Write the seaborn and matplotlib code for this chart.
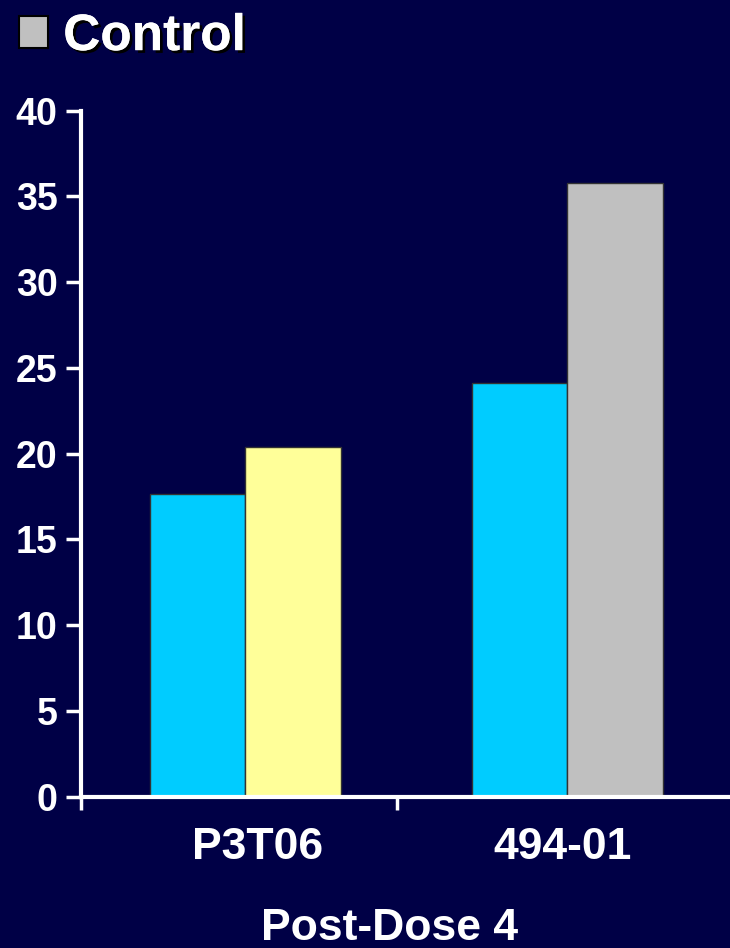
import seaborn as sns
import numpy as np
import matplotlib.pyplot as plt
import matplotlib.patheffects as pe
import matplotlib.transforms as mtransforms
from matplotlib.patches import Patch
import pandas as pd

# values
studies = ["P3T06", "P3T06", "494-01", "494-01"]
arms = ["Vaccine", "Control", "Vaccine", "Control"]
values = [17.65, 20.4, 24.1, 35.8]
yticks = [0, 5, 10, 15, 20, 25, 30, 35, 40]

df = pd.DataFrame({"study": studies, "arm": arms, "value": values})

bg = "#000046"
sns.set_style("white", {"axes.facecolor": bg, "figure.facecolor": bg})
plt.rcParams["font.family"] = ["Liberation Sans", "DejaVu Sans"]
plt.rcParams["font.weight"] = "bold"

fig = plt.figure(figsize=(7.3, 9.48), dpi=100)
ax = fig.add_axes([0.111, 0.1598, 0.889, 0.7236])

sns.barplot(data=df, x="study", y="value", hue="arm",
            palette={"Vaccine": "#00CCFF", "Control": "#C0C0C0"},
            width=0.593, saturation=1, edgecolor="#333333", linewidth=1,
            legend=False, ax=ax)
# P3T06 comparator bar is yellow in the original
ax.containers[1][0].set_facecolor("#FFFF99")

ax.set_ylim(0, 40)
ax.set_xlim(-0.51, 1.505)
ax.set_yticks(yticks)
ax.set_yticklabels([str(t) for t in yticks], fontsize=27, fontweight="bold", color="white")
ax.set_xticks([0, 1])
ax.set_xticklabels(["P3T06", "494-01"], fontsize=32, fontweight="bold", color="white")
ax.tick_params(axis="x", which="major", length=0, pad=22)
# nudge category labels like the original
for lab, dx in zip(ax.get_xticklabels(), [0.12, -0.05]):
    lab.set_transform(lab.get_transform() + mtransforms.ScaledTranslation(dx, 0, fig.dpi_scale_trans))
ax.set_xticks([-0.51, 0.47], minor=True)
ax.tick_params(axis="x", which="minor", bottom=True, length=9, width=2.5,
               color="white", direction="out")
ax.tick_params(axis="y", length=11, width=2.5, color="white", direction="out", pad=6, left=True)

for side in ["top", "right"]:
    ax.spines[side].set_visible(False)
for side in ["left", "bottom"]:
    ax.spines[side].set_color("white")
    ax.spines[side].set_linewidth(3)

ax.set_xlabel("Post-Dose 4", fontsize=32, fontweight="bold", color="white")
ax.xaxis.set_label_coords(0.476, -0.162)
ax.set_ylabel("")

leg = fig.legend(handles=[Patch(facecolor="#C0C0C0", edgecolor="black", linewidth=1.5)],
                 labels=["Control"], loc="upper left", bbox_to_anchor=(-0.038, 1.036),
                 frameon=False, handlelength=0.57, handleheight=0.57, handletextpad=0.3,
                 prop={"size": 37, "weight": "bold"})
for t in leg.get_texts():
    t.set_color("white")
    t.set_path_effects([pe.withSimplePatchShadow(offset=(2, -2), shadow_rgbFace="black", alpha=1),
                        pe.Normal()])

plt.savefig("out.png", dpi=100, facecolor=bg)
